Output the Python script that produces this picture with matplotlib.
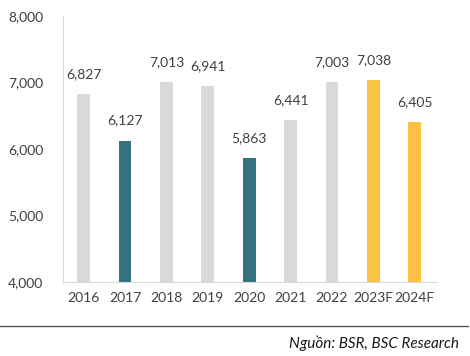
import matplotlib
matplotlib.use("Agg")
import matplotlib.pyplot as plt
from matplotlib.lines import Line2D

plt.rcParams['font.family'] = ['Lato', 'DejaVu Sans']

years = ["2016", "2017", "2018", "2019", "2020", "2021", "2022", "2023F", "2024F"]
values = [6827, 6127, 7013, 6941, 5863, 6441, 7003, 7038, 6405]
colors = ["#D9D8DA", "#33737F", "#D9D8DA", "#D9D8DA", "#33737F",
          "#D9D8DA", "#D9D8DA", "#FDC143", "#FDC143"]
yticks = [4000, 5000, 6000, 7000, 8000]

text_color = "#404040"

fig = plt.figure(figsize=(4.7, 3.56), dpi=100)
ax = fig.add_axes([0.134, 0.208, 0.796, 0.747])

x = range(len(years))
ax.bar(x, values, width=0.31, color=colors, zorder=2)

for i, v in enumerate(values):
    ax.annotate(f"{v:,}", (i, v), xytext=(0, 10), textcoords="offset points",
                ha="center", va="bottom", fontsize=10, color=text_color)

ax.set_ylim(4000, 8000)
ax.set_xlim(-0.5, 8.54)
ax.set_yticks(yticks)
ax.set_yticklabels([f"{t:,}" for t in yticks])
ax.set_xticks(list(x))
ax.set_xticklabels(years)
ax.tick_params(axis="both", length=0, labelsize=10, colors=text_color)
ax.tick_params(axis="y", pad=14)
ax.tick_params(axis="x", pad=7)

for s in ["top", "right"]:
    ax.spines[s].set_visible(False)
ax.spines["left"].set_color("#D9D9D9")
ax.spines["bottom"].set_color("#D9D9D9")

# source line + note
fig.add_artist(Line2D([0.0, 0.996], [1 - 326 / 356, 1 - 326 / 356],
                      transform=fig.transFigure, color="#555555", linewidth=1))
fig.text(0.977, 1 - 343 / 356, "Nguồn: BSR, BSC Research", ha="right", va="center",
         fontsize=11, style="italic", color="#1a1a1a")

fig.savefig("out.png", dpi=100)
